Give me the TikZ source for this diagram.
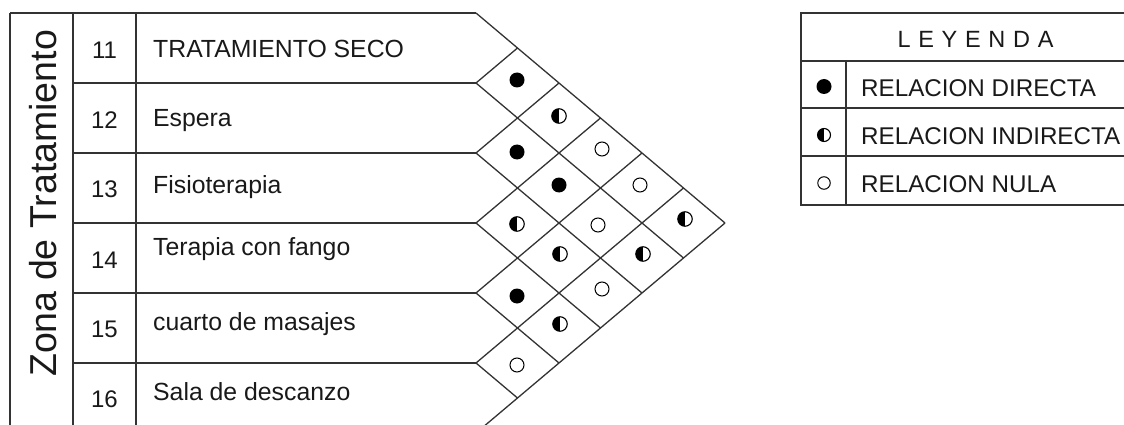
\documentclass[tikz,border=0pt]{standalone}
\usepackage{fontspec}
\setmainfont{Liberation Sans}
\begin{document}
\begin{tikzpicture}[x=1pt,y=-1pt,
  ln/.style={line width=1.3pt, draw=black!80},
  lbl/.style={anchor=base west, inner sep=0pt, text=black!90, font=\fontsize{24.8}{28}\selectfont},
  leg/.style={anchor=base west, inner sep=0pt, text=black!90, font=\fontsize{24.2}{28}\selectfont},
  num/.style={anchor=base, inner sep=0pt, text=black!90, font=\fontsize{24}{28}\selectfont},
  fdot/.style={circle, fill=black, inner sep=0pt, minimum size=15pt},
  hdot/.style={circle, draw=black, line width=1.1pt, inner sep=0pt, minimum size=14.5pt,
    path picture={\fill[black] (path picture bounding box.south west) rectangle (path picture bounding box.north);}},
  odot/.style={circle, draw=black, line width=1pt, inner sep=0pt, minimum size=14pt},
]
\useasboundingbox (0,0) rectangle (1124,425);
\clip (0,0) rectangle (1124,425);

% row ends at the diamond grid
\foreach \k in {0,...,6} \coordinate (r\k) at (476,{13+70*\k});
\coordinate (tip) at (725,223);

% left table frame
\coordinate (tl) at (10,13);
\draw[ln] (tl) -- (r0);
\draw[ln] (tl) -- (10,440);
\draw[ln] (73,13) -- (73,440);
\draw[ln] (136,13) -- (136,440);
\foreach \k in {1,...,6} \draw[ln] (73,{13+70*\k}) -- (r\k);

% diamond grid
\draw[ln] (r0) -- (tip);
\draw[ln] (r6) -- (tip);
\foreach \k in {1,...,5} {
  \draw[ln] (r\k) -- ++({41.5*\k},{-35*\k});
  \draw[ln] (r\k) -- ++({41.5*(6-\k)},{35*(6-\k)});
}

% rotated zone title
\node[rotate=90, anchor=base west, inner sep=0pt, text=black!90,
      font=\fontsize{37.5}{40}\selectfont] (zona) at (56,377) {Zona de Tratamiento};

% numbers
\node[num] (n11) at (104.5,58.3) {11};
\node[num] (n12) at (104.5,128.3) {12};
\node[num] (n13) at (104.5,197.5) {13};
\node[num] (n14) at (104.5,268) {14};
\node[num] (n15) at (104.5,337.5) {15};
\node[num] (n16) at (104.5,407.5) {16};

% labels
\node[lbl] (t11) at (153,58) {TRATAMIENTO SECO};
\node[lbl] (t12) at (153,127) {Espera};
\node[lbl] (t13) at (153,193) {Fisioterapia};
\node[lbl] (t14) at (153,255) {Terapia con fango};
\node[lbl] (t15) at (153,330) {cuarto de masajes};
\node[lbl] (t16) at (153,400) {Sala de descanzo};

% relation symbols
\node[fdot] (c12) at (517,80) {};
\node[hdot] (c13) at (559,116) {};
\node[odot] (c14) at (602,149) {};
\node[odot] (c15) at (640,185) {};
\node[hdot] (c16) at (685,219) {};
\node[fdot] (c23) at (517,152) {};
\node[fdot] (c24) at (559,185) {};
\node[odot] (c25) at (598,225) {};
\node[hdot] (c26) at (643,254) {};
\node[hdot] (c34) at (517,224) {};
\node[hdot] (c35) at (560,254) {};
\node[odot] (c36) at (602,289) {};
\node[fdot] (c45) at (517,296) {};
\node[hdot] (c46) at (560,324) {};
\node[odot] (c56) at (517,365) {};

% legend
\draw[ln] (801,13) rectangle (1140,205);
\draw[ln] (801,61) -- (1140,61);
\draw[ln] (801,108) -- (1140,108);
\draw[ln] (801,156) -- (1140,156);
\draw[ln] (846,61) -- (846,205);
\node[anchor=base, inner sep=0pt, text=black!90, font=\fontsize{23.5}{28}\selectfont] (ley) at (975.5,47.3)
  {L\hspace{7.7pt}E\hspace{7.7pt}Y\hspace{7.7pt}E\hspace{7.7pt}N\hspace{7.7pt}D\hspace{7.7pt}A};
\node[fdot] (l1) at (824,86.5) {};
\node[hdot, minimum size=13pt] (l2) at (824,135) {};
\node[odot, minimum size=12.5pt] (l3) at (824,183) {};
\node[leg] (lt1) at (861,96.7) {RELACION DIRECTA};
\node[leg] (lt2) at (861,145) {RELACION INDIRECTA};
\node[leg] (lt3) at (861,192) {RELACION NULA};
\end{tikzpicture}
\end{document}
